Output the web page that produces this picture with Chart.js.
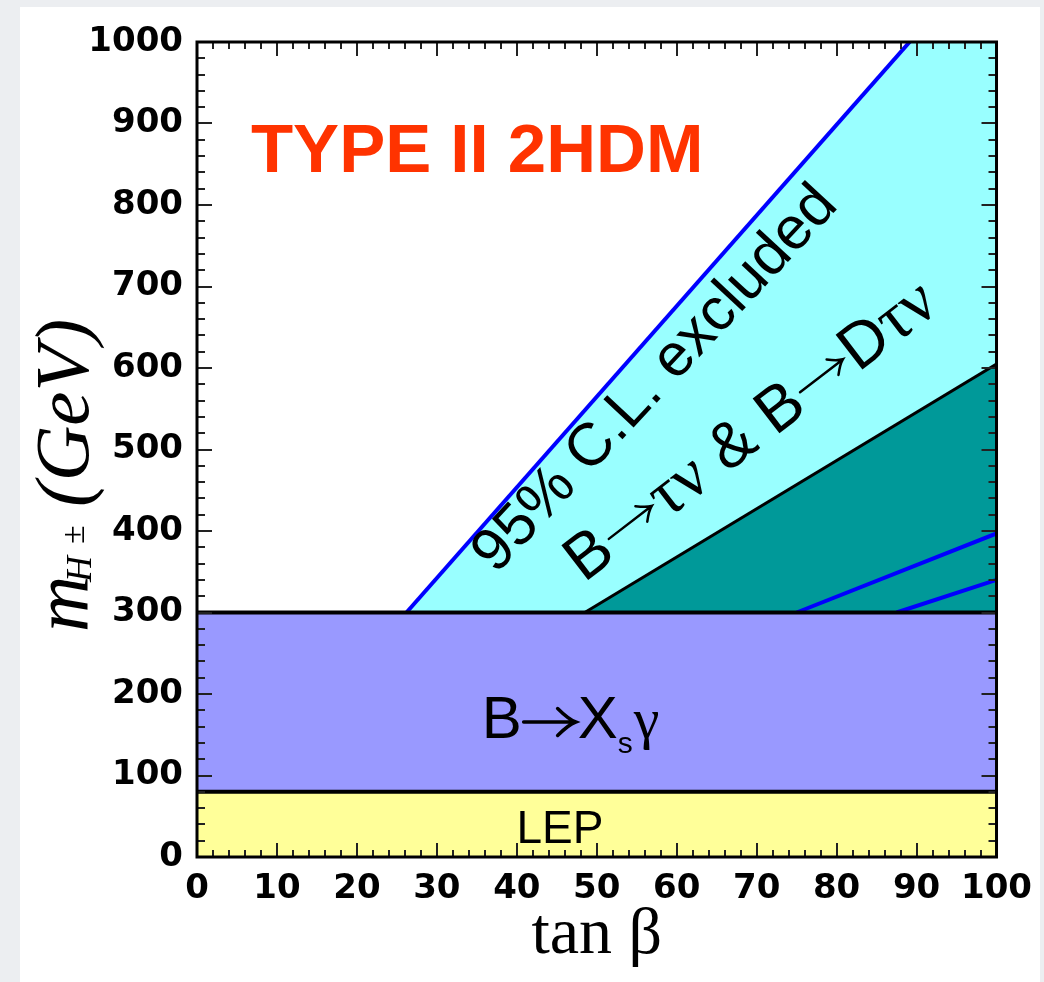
<!DOCTYPE html>
<html>
<head>
<meta charset="utf-8">
<script src="https://cdn.jsdelivr.net/npm/chart.js@4.4.1/dist/chart.umd.min.js"></script>
<style>
  html, body { margin: 0; padding: 0; background: #eceef1; }
  #panel { position: absolute; left: 20px; top: 7px; width: 1020px; height: 975px; background: #fff; }
  #wrap { position: absolute; left: 0; top: 0; width: 1044px; height: 982px; }
</style>
</head>
<body>
<div id="panel"></div>
<div id="wrap"><canvas id="myChart"></canvas></div>
<script>
// tick labels
const xTickLabels = ['0', '10', '20', '30', '40', '50', '60', '70', '80', '90', '100'];
const yTickLabels = ['0', '100', '200', '300', '400', '500', '600', '700', '800', '900', '1000'];

// exclusion boundaries: tan(beta) vs m_H+ (GeV)
// the tau-nu edge leaves the frame at tan(beta) ~ 89, it is clipped there
const fullRangeX = [0, 100];
const lepY = [80, 80];
const bsgY = [300, 300];
const tauNuX = [26.2, 100];
const tauNuY = [300, 1121];
const combX = [48.5, 100];
const combY = [300, 605];
const inner1X = [75, 100];
const inner1Y = [300, 397];
const inner2X = [87.5, 100];
const inner2Y = [300, 340];

function pts(xs, ys) {
    return xs.map((x, i) => ({x: x, y: ys[i]}))
}

function text(ctx, str, x, y, font) {
    ctx.font = font
    ctx.fillText(str, x, y)
    return ctx.measureText(str).width
}

// thin arrow like the symbol-font one, returns its advance
function arrow(ctx, x, y, len, head, lw) {
    const x0 = x + 4, x1 = x + 4 + len
    ctx.save()
    ctx.strokeStyle = '#000'
    ctx.lineWidth = lw
    ctx.lineCap = 'round'
    ctx.beginPath()
    ctx.moveTo(x0, y); ctx.lineTo(x1 - 1, y)
    ctx.moveTo(x1 - head, y - head * 0.75)
    ctx.quadraticCurveTo(x1 - head * 0.4, y - head * 0.15, x1, y)
    ctx.quadraticCurveTo(x1 - head * 0.4, y + head * 0.15, x1 - head, y + head * 0.75)
    ctx.stroke()
    ctx.restore()
    return len + 8
}

// inward ticks, frame and all the labels drawn on the plot
const decorPlugin = {
    id: 'decor',
    afterDraw(chart) {
        const ctx = chart.ctx
        const a = chart.chartArea
        const xs = chart.scales.x
        const ys = chart.scales.y

        ctx.save()
        ctx.strokeStyle = '#222'
        ctx.lineWidth = 2
        ctx.beginPath()
        for (let v = 0; v <= 100; v += 2) {
            const px = Math.round(xs.getPixelForValue(v))
            const len = v % 10 === 0 ? 14 : 7
            ctx.moveTo(px, a.bottom); ctx.lineTo(px, a.bottom - len)
            ctx.moveTo(px, a.top); ctx.lineTo(px, a.top + len)
        }
        for (let v = 0; v <= 1000; v += 20) {
            const py = Math.round(ys.getPixelForValue(v))
            const len = v % 100 === 0 ? 15 : 8
            ctx.moveTo(a.left, py); ctx.lineTo(a.left + len, py)
            ctx.moveTo(a.right, py); ctx.lineTo(a.right - len, py)
        }
        ctx.stroke()

        ctx.strokeStyle = '#000'
        ctx.lineWidth = 3
        ctx.strokeRect(a.left, a.top, a.right - a.left, a.bottom - a.top)

        ctx.textBaseline = 'alphabetic'
        ctx.textAlign = 'left'

        // title
        ctx.fillStyle = '#ff3300'
        text(ctx, 'TYPE II 2HDM', xs.getPixelForValue(6.75), ys.getPixelForValue(840), 'bold 69px "Liberation Sans"')

        ctx.fillStyle = '#000'
        // 95% C.L. excluded
        ctx.save()
        ctx.translate(xs.getPixelForValue(37.4), ys.getPixelForValue(346))
        ctx.rotate(-47 * Math.PI / 180)
        text(ctx, '95% C.L. excluded', 0, 0, '60px "Liberation Sans"')
        ctx.restore()

        // B -> tau nu & B -> D tau nu
        ctx.save()
        ctx.translate(xs.getPixelForValue(48.4), ys.getPixelForValue(336))
        ctx.rotate(-37.5 * Math.PI / 180)
        const sans = '64px "Liberation Sans"'
        const serif = '68px "Liberation Serif"'
        let cx = 0
        cx += text(ctx, 'B', cx, 0, sans)
        cx += arrow(ctx, cx, -20, 54, 13, 2.5)
        cx += text(ctx, '\u03c4\u03bd', cx, 0, serif)
        cx += text(ctx, ' & B', cx, 0, sans)
        cx += arrow(ctx, cx, -20, 54, 13, 2.5)
        cx += text(ctx, 'D', cx, 0, sans)
        cx += text(ctx, '\u03c4\u03bd', cx, 0, serif)
        ctx.restore()

        // B -> Xs gamma
        let bx = xs.getPixelForValue(35.6)
        const by = ys.getPixelForValue(146)
        bx += text(ctx, 'B', bx, by, '60px "Liberation Sans"')
        bx += arrow(ctx, bx - 2, by - 16, 52, 18, 3.5)
        bx += text(ctx, 'X', bx - 4, by, '60px "Liberation Sans"') - 4
        bx += text(ctx, 's', bx, by + 15, '30px "Liberation Sans"')
        text(ctx, '\u03b3', bx + 1, by, '58px "Liberation Serif"')

        // LEP
        ctx.textAlign = 'center'
        text(ctx, 'LEP', xs.getPixelForValue(45.4), ys.getPixelForValue(17), '46px "Liberation Sans"')

        // x title
        text(ctx, 'tan \u03b2', xs.getPixelForValue(50), a.bottom + 96, '66px "Liberation Serif"')

        // y title
        ctx.textAlign = 'left'
        ctx.save()
        ctx.translate(a.left - 109, 632)
        ctx.rotate(-Math.PI / 2)
        text(ctx, 'm', 0, 0, 'italic 78px "Liberation Serif"')
        text(ctx, 'H', 50, 3, 'italic 36px "Liberation Serif"')
        text(ctx, '\u00b1', 88, -4, '34px "Liberation Serif"')
        text(ctx, '(GeV)', 125, 0, 'italic 77px "Liberation Serif"')
        ctx.restore()

        ctx.restore()
    }
}

const tickFont = {family: 'DejaVu Sans', weight: 'bold', size: 34}

new Chart('myChart', {
    type: 'line',
    data: {
        datasets: [
            {
                data: pts(fullRangeX, lepY),
                borderColor: '#000', borderWidth: 4,
                backgroundColor: '#ffff99', fill: {value: 0}
            },
            {
                data: pts(fullRangeX, bsgY),
                borderColor: '#000', borderWidth: 4,
                backgroundColor: '#9999ff', fill: {value: 80}
            },
            {
                data: pts(inner2X, inner2Y),
                borderColor: '#0000ff', borderWidth: 4, fill: false
            },
            {
                data: pts(inner1X, inner1Y),
                borderColor: '#0000ff', borderWidth: 4, fill: false
            },
            {
                data: pts(combX, combY),
                borderColor: '#000', borderWidth: 3,
                backgroundColor: '#009999', fill: {value: 300}
            },
            {
                data: pts(tauNuX, tauNuY),
                borderColor: '#0000ff', borderWidth: 4,
                backgroundColor: '#99ffff', fill: {value: 300},
                clip: 0
            }
        ]
    },
    options: {
        responsive: true,
        maintainAspectRatio: false,
        animation: false,
        devicePixelRatio: 1,
        elements: {point: {radius: 0}, line: {tension: 0}},
        layout: {padding: {left: 0, right: 47, top: 42, bottom: 0}},
        plugins: {
            legend: {display: false},
            tooltip: {enabled: false}
        },
        scales: {
            x: {
                type: 'linear', min: 0, max: 100,
                grid: {display: false, drawTicks: false},
                border: {display: false},
                ticks: {
                    stepSize: 10, padding: 12, color: '#000', font: tickFont,
                    maxRotation: 0, autoSkip: false,
                    callback: (v, i) => xTickLabels[i]
                },
                afterFit: s => { s.height = 125 }
            },
            y: {
                type: 'linear', min: 0, max: 1000,
                grid: {display: false, drawTicks: false},
                border: {display: false},
                ticks: {
                    stepSize: 100, padding: 14, color: '#000', font: tickFont,
                    autoSkip: false,
                    callback: (v, i) => yTickLabels[i]
                },
                afterFit: s => { s.width = 197 }
            }
        }
    },
    plugins: [decorPlugin]
});
</script>
</body>
</html>
